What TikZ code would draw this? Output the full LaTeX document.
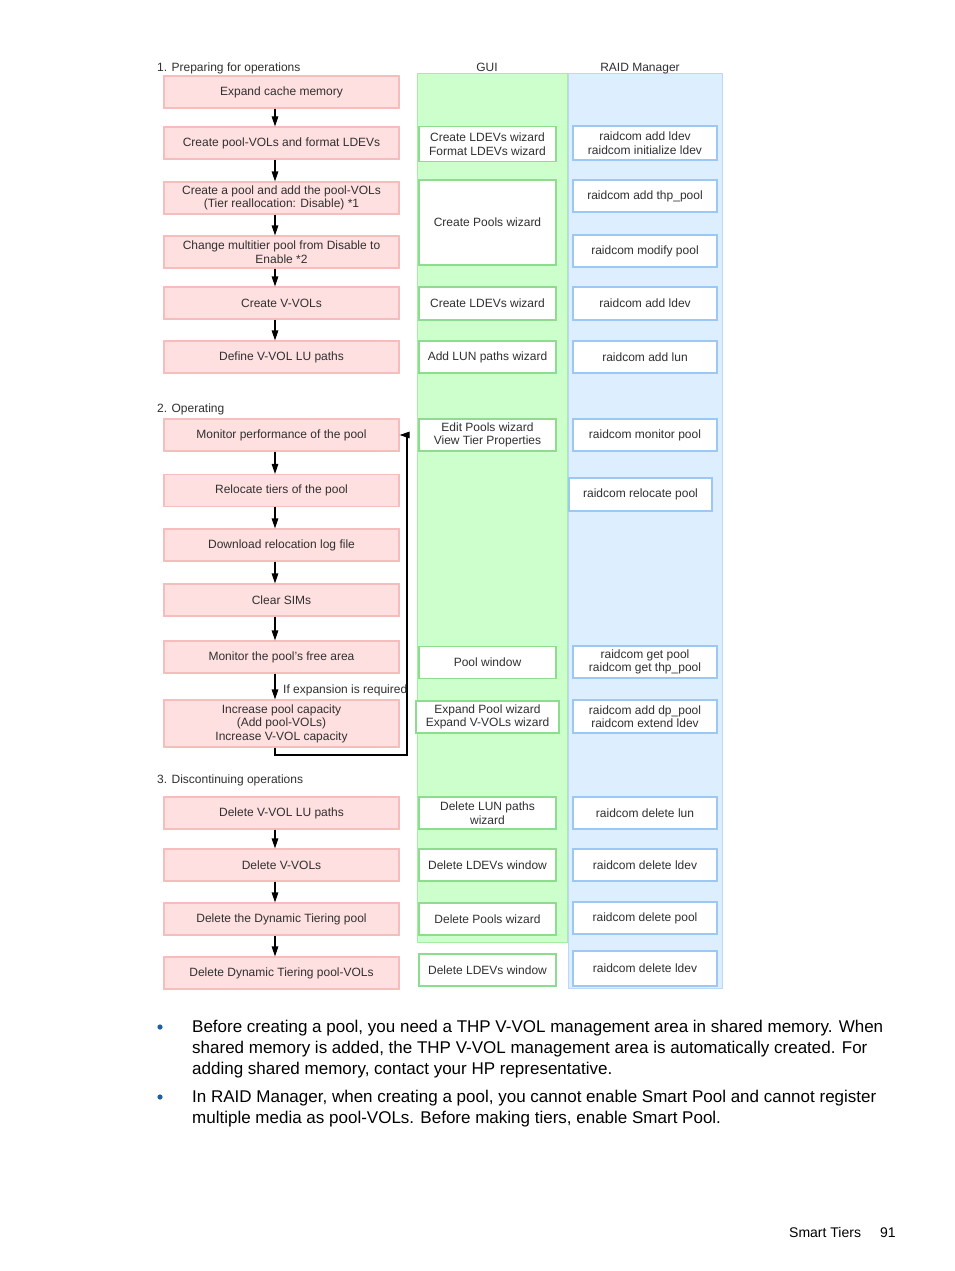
\documentclass[tikz,border=0pt]{standalone}
\usepackage{fontspec}
\setmainfont{Liberation Sans}
\usetikzlibrary{arrows.meta}
\definecolor{pinkfill}{HTML}{FFE0E0}
\definecolor{pinkdraw}{HTML}{F6BDBD}
\definecolor{gcolfill}{HTML}{CCFFCC}
\definecolor{gcoldraw}{HTML}{A6EEA6}
\definecolor{gboxdraw}{HTML}{8EDC8E}
\definecolor{bcolfill}{HTML}{DDEEFF}
\definecolor{bcoldraw}{HTML}{BBD8F8}
\definecolor{bboxdraw}{HTML}{9CC8F6}
\definecolor{txt}{HTML}{303030}
\definecolor{bulletblue}{HTML}{1F5FA8}
\begin{document}
\begin{tikzpicture}[x=1pt,y=-1pt,
  every node/.style={font=\fontsize{12}{13.5}\selectfont, text=txt},
  basebox/.style={inner sep=0pt, align=center, line width=1.1pt},
  pbox/.style={basebox, fill=pinkfill, draw=pinkdraw, minimum width=235, minimum height=32},
  gbox/.style={basebox, fill=white, draw=gboxdraw, minimum width=137, minimum height=32},
  bbox/.style={basebox, fill=white, draw=bboxdraw, minimum width=144, minimum height=32},
  heading/.style={anchor=base west, inner sep=0pt},
  arr/.style={draw=black, line width=1.1pt, -{Triangle[length=10pt,width=6.5pt]}},
  bodytext/.style={anchor=base west, font=\fontsize{17}{21}\selectfont, text=black, inner sep=0pt},
]
\useasboundingbox (0,0) rectangle (954,1271);
\fill[white] (0,0) rectangle (954,1271);

% columns
\filldraw[fill=gcolfill, draw=gcoldraw, line width=1pt] (417,74) rectangle (567,942);
\filldraw[fill=bcolfill, draw=bcoldraw, line width=1pt] (568,74) rectangle (722,988);

% headings
\node[heading] (h1) at (157,72) {1. Preparing for operations};
\node[anchor=base, inner sep=0pt] (hgui) at (487,72) {GUI};
\node[anchor=base, inner sep=0pt] (hraid) at (640,72) {RAID Manager};
\node[heading] (h2) at (157,412) {2. Operating};
\node[heading] (h3) at (157,783) {3. Discontinuing operations};

% pink steps
\node[pbox] (p1) at (281.5,92) {Expand cache memory};
\node[pbox] (p2) at (281.5,143) {Create pool-VOLs and format LDEVs};
\node[pbox] (p3) at (281.5,198) {Create a pool and add the pool-VOLs\\(Tier reallocation: Disable) *1};
\node[pbox] (p4) at (281.5,252) {Change multitier pool from Disable to\\Enable *2};
\node[pbox] (p5) at (281.5,303) {Create V-VOLs};
\node[pbox] (p6) at (281.5,357) {Define V-VOL LU paths};
\node[pbox] (p7) at (281.5,435) {Monitor performance of the pool};
\node[pbox] (p8) at (281.5,490.5) {Relocate tiers of the pool};
\node[pbox] (p9) at (281.5,545) {Download relocation log file};
\node[pbox] (p10) at (281.5,600) {Clear SIMs};
\node[pbox] (p11) at (281.5,657) {Monitor the pool's free area};
\node[pbox, minimum height=47] (p12) at (281.5,723.5) {Increase pool capacity\\(Add pool-VOLs)\\Increase V-VOL capacity};
\node[pbox] (p13) at (281.5,813) {Delete V-VOL LU paths};
\node[pbox] (p14) at (281.5,865) {Delete V-VOLs};
\node[pbox] (p15) at (281.5,919) {Delete the Dynamic Tiering pool};
\node[pbox] (p16) at (281.5,973) {Delete Dynamic Tiering pool-VOLs};

% GUI boxes
\node[gbox, minimum height=35] (g1) at (487.5,144) {Create LDEVs wizard\\Format LDEVs wizard};
\node[gbox, minimum height=85] (g2) at (487.5,222.5) {Create Pools wizard};
\node[gbox, minimum height=33] (g3) at (487.5,303.5) {Create LDEVs wizard};
\node[gbox] (g4) at (487.5,357) {Add LUN paths wizard};
\node[gbox] (g5) at (487.5,435) {Edit Pools wizard\\View Tier Properties};
\node[gbox] (g6) at (487.5,662.5) {Pool window};
\node[gbox, minimum width=143] (g7) at (487.5,717) {Expand Pool wizard\\Expand V-VOLs wizard};
\node[gbox] (g8) at (487.5,813) {Delete LUN paths\\wizard};
\node[gbox] (g9) at (487.5,865) {Delete LDEVs window};
\node[gbox] (g10) at (487.5,919) {Delete Pools wizard};
\node[gbox] (g11) at (487.5,970) {Delete LDEVs window};

% RAID Manager boxes
\node[bbox, minimum height=34] (b1) at (645,143) {raidcom add ldev\\raidcom initialize ldev};
\node[bbox] (b2) at (645,196) {raidcom add thp\_pool};
\node[bbox] (b3) at (645,251) {raidcom modify pool};
\node[bbox, minimum height=33] (b4) at (645,303.5) {raidcom add ldev};
\node[bbox] (b5) at (645,357) {raidcom add lun};
\node[bbox] (b6) at (645,435) {raidcom monitor pool};
\node[bbox, minimum width=143, minimum height=33] (b7) at (640.5,494.5) {raidcom relocate pool};
\node[bbox] (b8) at (645,662) {raidcom get pool\\raidcom get thp\_pool};
\node[bbox, minimum height=33] (b9) at (645,716.5) {raidcom add dp\_pool\\raidcom extend ldev};
\node[bbox] (b10) at (645,813) {raidcom delete lun};
\node[bbox] (b11) at (645,865) {raidcom delete ldev};
\node[bbox] (b12) at (645,918) {raidcom delete pool};
\node[bbox, minimum height=35] (b13) at (645,968.5) {raidcom delete ldev};

% arrows
\coordinate (ax) at (275,0);
\coordinate (lp) at (407,755);
\foreach \a/\b in {p1/p2,p2/p3,p3/p4,p4/p5,p5/p6,p7/p8,p8/p9,p9/p10,p10/p11,p11/p12,p13/p14,p14/p15,p15/p16}
  \draw[arr] (\a.south -| ax) -- (\b.north -| ax);
\draw[arr] (p12.south -| ax) |- (lp) |- (p7.east);
\node[anchor=base west, inner sep=0pt] (cond) at (283,693) {If expansion is required};

% bullet text
\fill[bulletblue] (160,1027) circle (2.6) coordinate (d1);
\fill[bulletblue] (160,1097) circle (2.6) coordinate (d2);
\node[bodytext] (t1) at (192,1032) {Before creating a pool, you need a THP V-VOL management area in shared memory. When};
\node[bodytext] (t2) at (192,1053) {shared memory is added, the THP V-VOL management area is automatically created. For};
\node[bodytext] (t3) at (192,1074) {adding shared memory, contact your HP representative.};
\node[bodytext] (t4) at (192,1102) {In RAID Manager, when creating a pool, you cannot enable Smart Pool and cannot register};
\node[bodytext] (t5) at (192,1123) {multiple media as pool-VOLs. Before making tiers, enable Smart Pool.};

% footer
\node[anchor=base west, inner sep=0pt, font=\fontsize{14}{16}\selectfont, text=black] (f1) at (789,1237) {Smart Tiers};
\node[anchor=base west, inner sep=0pt, font=\fontsize{14}{16}\selectfont, text=black] (f2) at (880,1237) {91};
\end{tikzpicture}
\end{document}
